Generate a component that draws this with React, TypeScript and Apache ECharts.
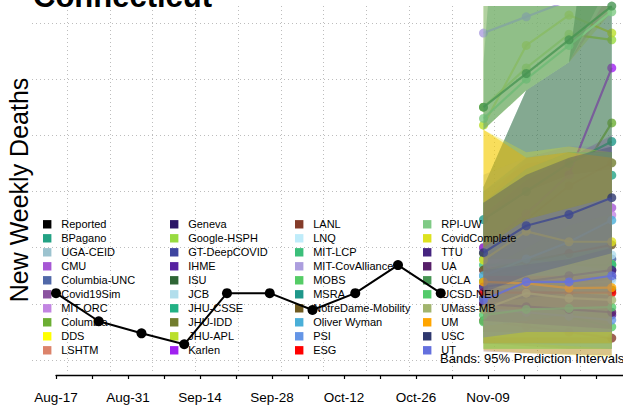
import React, { useEffect, useRef } from "react";
import * as echarts from "echarts";

const reportedWeeks = [0, 1, 2, 3, 4, 5, 6, 7, 8, 9];
const reportedDeaths = [11.9, 6.9, 4.75, 2.8, 11.9, 11.9, 8.9, 11.9, 16.9, 11.9];
const forecastWeeks = [10, 11, 12, 13];
const tickLabels = ["Aug-17", "Aug-31", "Sep-14", "Sep-28", "Oct-12", "Oct-26", "Nov-09"];

const models = [
  "BPagano", "UGA-CEID", "CMU", "Columbia-UNC", "Covid19Sim", "MIT-ORC", "Columbia", "DDS", "LSHTM",
  "Geneva", "Google-HSPH", "GT-DeepCOVID", "IHME", "ISU", "JCB", "JHU-CSSE", "JHU-IDD", "JHU-APL", "Karlen",
  "LANL", "LNQ", "MIT-LCP", "MIT-CovAlliance", "MOBS", "MSRA", "NotreDame-Mobility", "Oliver Wyman", "PSI", "ESG",
  "RPI-UW", "CovidComplete", "TTU", "UA", "UCLA", "UCSD-NEU", "UMass-MB", "UM", "USC", "UT",
];
const modelColors = [
  "#23A284", "#9CC3CF", "#A657D4", "#5068A8", "#8B54A0", "#C285E2", "#6BAE33", "#FFFF00", "#DC836A",
  "#2A1466", "#98DB40", "#3E45A0", "#5621A0", "#2F6535", "#B2DEEC", "#22B184", "#727D2E", "#BADF2A", "#A020F0",
  "#843C2A", "#BFECFA", "#3BBF7A", "#AC9EDE", "#55CC66", "#1F978A", "#6F5A20", "#4AAFD8", "#6495E6", "#FF0000",
  "#7FCA85", "#DDE21F", "#45247F", "#561E68", "#479553", "#52CA6A", "#A2B56E", "#FFA500", "#2E376E", "#6470DE",
];
// weekly medians for weeks Oct-26 .. Nov-16
const medians = [
  [18, 27, 33, 32.9], [15, 16, 17, 18], [16, 20, 24, 27.1], [12, 14, 16, 18], [11, 13, 14, 15],
  [15, 19, 22, 25.8], [20, 25, 30, 42.2], [14, 15, 16, 17], [13, 12.5, 12, 11.9],
  [13, 14, 15, 16], [45, 52, 58, 57], [12, 13, 14, 14.5], [10, 10.1, 9, 8], [11, 11.5, 12, 12.5],
  [15, 16, 17.5, 18.7], [14, 15, 16, 17], [19, 25, 31, 35.1], [41.8, 56, 61.4, 58.2], [20, 26, 33, 52],
  [7, 6, 5, 3.9], [12.8, 13, 13.5, 14], [16.9, 17, 17, 16.9], [58.2, 61.1, 64, 68], [6.8, 8.9, 7.7, 5.9],
  [25, 30, 35, 38.9], [16, 17.5, 19, 20.5], [15, 18, 21, 24.9], [9, 8.5, 7.8, 7.1], [12, 12, 12, 12],
  [43, 50, 56, 62], [17.8, 22.9, 21.05, 21.05], [13, 14, 15, 16], [10, 9.5, 9, 8.5], [45, 51, 57, 63],
  [8, 9, 9.2, 9.4], [9, 11.9, 11, 10.7], [13.9, 13.65, 12.8, 12.9], [19.1, 23.9, 25.9, 28.9], [10.7, 13.9, 13.9, 15],
];
const lowers = [
  [6, 8, 10, 10], [5, 5, 5, 5], [10, 13, 15, 17], [3, 3, 3, 3], [6, 7, 8, 8],
  [7, 8, 9, 10], [8, 10, 12, 14], [1.8, 1.2, 0.9, 0.6], [3, 2.5, 2, 2],
  [10, 11, 12, 12], [41, 48, 53, 64], [9, 10, 11, 11], [7, 7, 6, 5], [3, 3, 3, 3],
  [5, 5, 5, 5], [4, 4, 4, 4], [4, 5, 6, 7], [41, 48, 53, 62], [16, 20, 24, 26],
  [1.5, 1.2, 1, 0.8], [4, 4, 4, 4], [2, 2, 2, 2], [41, 48, 53, 64], [2, 2, 2, 2],
  [8, 10, 12, 14], [5, 5, 5, 5], [6, 7, 8, 9], [3, 3, 2.5, 2], [9, 9, 9, 9],
  [41, 48, 53, 66], [2, 2, 2, 2], [10, 11, 12, 12], [7, 6.5, 6, 5.5], [41, 48, 53, 68],
  [3, 3, 3, 3], [2, 2, 2, 2], [3, 3, 3, 3], [12, 15, 17, 19], [4, 5, 5, 5],
];
const uppers = [
  [30.8, 48, 53, 110], [27, 35, 37, 36], [22, 27, 32, 36], [24, 32, 35, 35], [16, 19, 20, 22],
  [28, 36, 38, 38], [28, 34, 37, 37], [41, 36, 37, 37], [30, 35, 36, 36],
  [16, 17, 18, 20], [150, 170, 190, 210], [15, 16, 17, 18], [13, 13, 12, 11], [25, 32, 36, 37],
  [30, 36, 38, 38], [28, 34, 37, 37], [28, 34, 37, 37], [150, 170, 190, 210], [26, 32, 36, 40],
  [14, 13, 12, 10], [25, 30, 33, 34], [30, 36, 37, 37], [150, 170, 190, 210], [14, 16, 16, 15],
  [30.8, 48, 53, 110], [30.8, 48, 53, 110], [28, 34, 37, 37], [18, 18, 17, 16], [15, 15, 15, 15],
  [150, 170, 190, 210], [41, 37, 38, 37], [16, 17, 18, 20], [13, 12.5, 12, 11.5], [53, 150, 170, 190],
  [16, 18, 19, 20], [33, 36, 37, 37], [41, 36, 37, 36], [28, 33, 36, 38], [20, 25, 27, 29],
];

const FONT = "'Liberation Sans', Arial, Helvetica, sans-serif";
const BAND_ALPHA = 0.3;
const LINE_ALPHA = 0.8;

export default function App() {
  const ref = useRef<HTMLDivElement>(null);
  useEffect(() => {
    const chart = echarts.init(ref.current!, null, { renderer: "svg" });
    const series: any[] = [];
    models.forEach((name, i) => {
      const color = modelColors[i];
      series.push({
        type: "custom", name, xAxisIndex: 1, yAxisIndex: 0, silent: true, clip: true,
        z: 10 + 2 * i,
        data: forecastWeeks.map((w, k) => [w, lowers[i][k], uppers[i][k]]),
        encode: { x: 0, y: [1, 2] },
        renderItem: (params: any, api: any) => {
          if (params.dataIndex !== 0) return null;
          const up = forecastWeeks.map((w, k) => api.coord([w, uppers[i][k]]));
          const lo = forecastWeeks.map((w, k) => api.coord([w, lowers[i][k]])).reverse();
          return {
            type: "polygon",
            shape: { points: [...up, ...lo] },
            style: { fill: color, opacity: BAND_ALPHA },
          };
        },
      });
      series.push({
        type: "line", name, xAxisIndex: 1, yAxisIndex: 0, z: 11 + 2 * i,
        data: forecastWeeks.map((w, k) => [w, medians[i][k]]),
        symbol: "circle", symbolSize: 9,
        lineStyle: { color, width: 2.2, opacity: LINE_ALPHA },
        itemStyle: { color, opacity: LINE_ALPHA },
      });
    });
    series.push({
      type: "line", name: "Reported", xAxisIndex: 1, yAxisIndex: 0, z: 300, clip: false,
      data: reportedWeeks.map((w, k) => [w, reportedDeaths[k]]),
      symbol: "circle", symbolSize: 10,
      lineStyle: { color: "#000", width: 2 }, itemStyle: { color: "#000" },
    });

    const legendNames = ["Reported", ...models];
    const colorOf = (n: string) => (n === "Reported" ? "#000000" : modelColors[models.indexOf(n)]);
    const colLefts = [43, 170, 295, 423];
    const legend = colLefts.map((left, c) => ({
      orient: "vertical", left, top: 218.8, padding: 0, itemGap: 3, z: 200,
      itemWidth: 18, itemHeight: 8.4, icon: "path://M0 0H10V10H0Z",
      selectedMode: false,
      textStyle: { fontSize: 11, fontFamily: FONT, color: "#000" },
      data: legendNames.slice(c * 10, c * 10 + 10).map((n) => ({
        name: n, itemStyle: { color: colorOf(n), opacity: 1, borderWidth: 0 },
      })),
    }));

    const gridLine = { show: true, lineStyle: { color: "#bdbdbd", width: 1, type: [1, 3] } };

    chart.setOption({
      animation: false,
      backgroundColor: "#ffffff",
      grid: [
        { left: 56, right: 0, top: 6, bottom: 38 },
        { left: 67, right: 0, top: 6, bottom: 41 },
        { left: 32, right: 0, top: 23, bottom: 53 },
      ],
      xAxis: [
        {
          type: "value", gridIndex: 0, min: 0, max: 110.25, interval: 7, position: "bottom",
          axisLine: { show: true, onZero: false, lineStyle: { color: "#000", width: 1.3 } },
          axisTick: { show: true, length: 4, lineStyle: { color: "#000", width: 1.2 } },
          axisLabel: {
            show: true, margin: 15, fontSize: 13.5, fontFamily: FONT, color: "#000",
            showMaxLabel: false,
            formatter: (v: number) => (v % 14 === 0 && tickLabels[v / 14] ? tickLabels[v / 14] : ""),
          },
          splitLine: { show: false },
        },
        { type: "value", gridIndex: 0, min: 0, max: 567 / 42.75, show: false },
        {
          type: "value", gridIndex: 1, min: 0, max: 556 / 42.75, interval: 1,
          axisLine: { show: false }, axisTick: { show: false }, axisLabel: { show: false },
          splitLine: gridLine,
        },
        { type: "value", gridIndex: 2, min: 0, max: 1, show: false },
      ],
      yAxis: [
        { type: "value", gridIndex: 0, min: -2.67, max: 63.02, show: false },
        { type: "value", gridIndex: 1, min: 0, max: 1, show: false },
        {
          type: "value", gridIndex: 2, min: 0, max: 6, interval: 1,
          axisLine: { show: false }, axisTick: { show: false }, axisLabel: { show: false },
          splitLine: gridLine,
        },
      ],
      legend,
      graphic: [
        {
          type: "text", x: 33, y: -3.9, z: 400,
          style: { text: "Connecticut", fontSize: 31, fontWeight: "bold", fontFamily: FONT, fill: "#000", align: "left", verticalAlign: "middle" },
        },
        {
          type: "text", x: 19, y: 190, rotation: Math.PI / 2, z: 400,
          style: { text: "New Weekly Deaths", fontSize: 25, fontFamily: FONT, fill: "#000", align: "center", verticalAlign: "middle" },
        },
        {
          type: "text", x: 440, y: 358.5, z: 400,
          style: { text: "Bands: 95% Prediction Intervals", fontSize: 13, fontFamily: FONT, fill: "#000", align: "left", verticalAlign: "middle" },
        },
      ],
      series,
    });
    return () => chart.dispose();
  }, []);
  return <div ref={ref} style={{ position: "fixed", left: 0, top: 0, width: 623, height: 413 }} />;
}
